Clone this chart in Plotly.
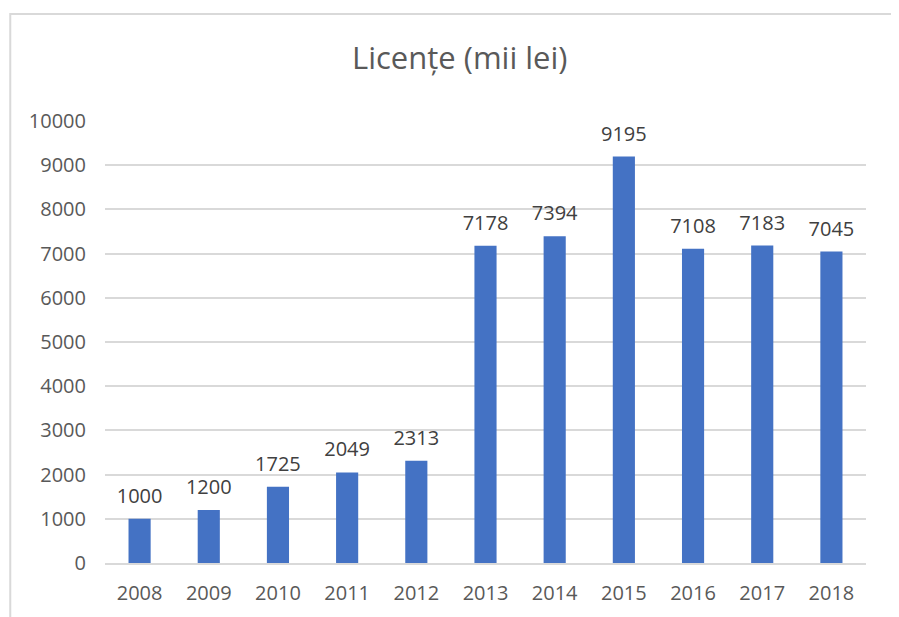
import plotly.graph_objects as go

years = ['2008', '2009', '2010', '2011', '2012', '2013', '2014', '2015', '2016', '2017', '2018']
values = [1000, 1200, 1725, 2049, 2313, 7178, 7394, 9195, 7108, 7183, 7045]
y_ticks = [0, 1000, 2000, 3000, 4000, 5000, 6000, 7000, 8000, 9000, 10000]

font_family = 'Open Sans, Noto Sans, Liberation Sans, sans-serif'

fig = go.Figure()
fig.add_trace(go.Bar(
    x=years, y=values,
    marker=dict(color='#4472C4', line=dict(width=0)),
    hoverinfo='x+y',
))
# value labels above the bars
fig.add_trace(go.Scatter(
    x=years, y=values, mode='markers+text',
    marker=dict(size=16, color='rgba(0,0,0,0)'),
    text=[str(v) for v in values],
    textposition='top center',
    textfont=dict(size=20, color='#404040', family=font_family),
    cliponaxis=False, hoverinfo='skip',
))

# page body has an 8px margin, so the figure is a bit smaller than the window
fig.update_layout(
    width=891, height=609,
    margin=dict(l=97, r=33, t=113, b=54),
    paper_bgcolor='white', plot_bgcolor='white',
    bargap=0.68,
    showlegend=False,
    font=dict(family=font_family, color='#595959', size=20),
    title=dict(text='Licențe (mii lei)', x=0.507, xanchor='center', y=0.918, yanchor='middle',
               font=dict(size=31, color='#595959', family=font_family)),
    xaxis=dict(range=[-0.5, len(years) - 0.5], showgrid=False, showline=True,
               linecolor='#d9d9d9', linewidth=2,
               ticks='', tickfont=dict(size=20, color='#595959'), ticklabelstandoff=11,
               automargin=False),
    yaxis=dict(range=[0, 10000], tickvals=y_ticks, tickformat='d', showgrid=True,
               gridcolor='#d9d9d9', gridwidth=2, zeroline=False, showline=False, ticks='',
               tickfont=dict(size=20, color='#595959'), ticklabelstandoff=18,
               automargin=False),
    shapes=[dict(type='rect', xref='paper', yref='paper',
                 x0=-0.1245, y0=-0.3, x1=1.2, y1=1.242,
                 line=dict(color='#d9d9d9', width=2), fillcolor='rgba(0,0,0,0)', layer='below')],
)

fig.write_html("out.html")
